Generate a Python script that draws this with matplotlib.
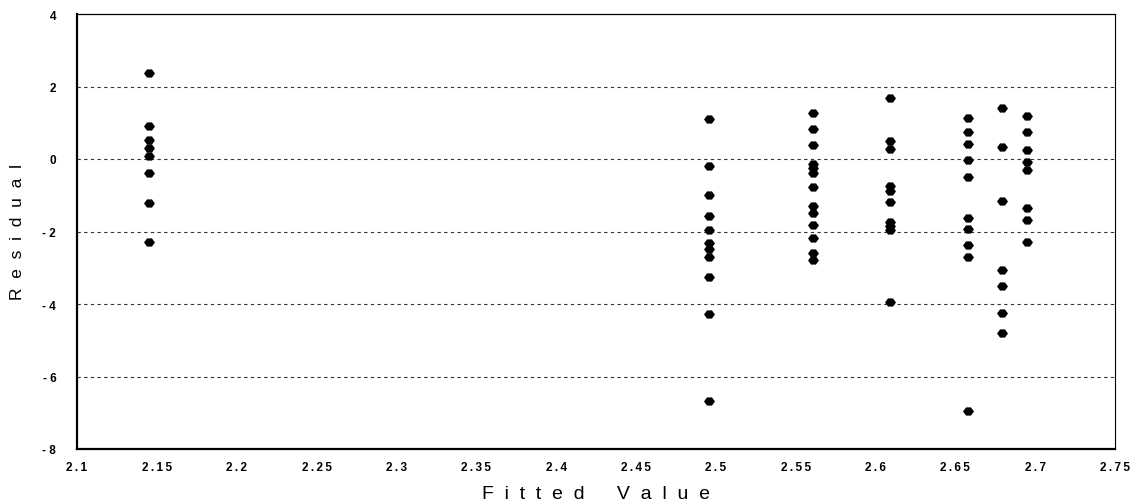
import matplotlib
matplotlib.use("Agg")
import matplotlib.pyplot as plt
from matplotlib.ticker import FuncFormatter

# fitted values (one per column) and the residuals in each column
fitted = [2.145, 2.496, 2.561, 2.609, 2.658, 2.679, 2.695]
residuals = [
    [2.36, 0.90, 0.52, 0.30, 0.08, -0.38, -1.21, -2.30],
    [1.10, -0.19, -0.99, -1.56, -1.97, -2.33, -2.47, -2.71, -3.26, -4.27, -6.68],
    [1.26, 0.82, 0.38, -0.14, -0.25, -0.38, -0.77, -1.29, -1.48, -1.81, -2.19, -2.58, -2.79],
    [1.67, 0.49, 0.27, -0.74, -0.88, -1.18, -1.73, -1.86, -1.97, -3.95],
    [1.12, 0.74, 0.41, -0.03, -0.49, -1.64, -1.92, -2.38, -2.71, -6.96],
    [1.42, 0.33, -1.15, -3.07, -3.51, -4.25, -4.79],
    [1.18, 0.74, 0.25, -0.08, -0.30, -1.34, -1.67, -2.30],
]
x_ticks = [2.1, 2.15, 2.2, 2.25, 2.3, 2.35, 2.4, 2.45, 2.5, 2.55, 2.6, 2.65, 2.7, 2.75]
y_ticks = [-8, -6, -4, -2, 0, 2, 4]

plt.rcParams['font.family'] = ['Liberation Sans', 'DejaVu Sans']


def spaced(s):
    return "\u2009".join(s)


def fmt_x(v, pos):
    return spaced(("%.2f" % v).rstrip("0"))


def fmt_y(v, pos):
    s = "%d" % v
    if s.startswith("-"):
        s = "- " + s[1:]
    return s


fig = plt.figure(figsize=(11.42, 5.02), dpi=100)
ax = fig.add_axes([77 / 1142, 1 - 450 / 502, (1115 - 77) / 1142, (450 - 15) / 502])

# flattened hexagon, like the rounded diamonds in the original
mk = [(-1, 0), (-0.45, 0.75), (0.45, 0.75), (1, 0), (0.45, -0.75), (-0.45, -0.75), (-1, 0)]
for xv, col in zip(fitted, residuals):
    ax.scatter([xv] * len(col), col, marker=mk, s=62, color="black", linewidths=0, zorder=3)

for yv in y_ticks[1:-1]:
    ax.axhline(yv, color="#333333", lw=0.8, linestyle=(0, (3, 3)), zorder=1)

ax.set_xlim(2.1, 2.75)
ax.set_ylim(-8, 4)
ax.set_xticks(x_ticks)
ax.set_yticks(y_ticks)
ax.xaxis.set_major_formatter(FuncFormatter(fmt_x))
ax.yaxis.set_major_formatter(FuncFormatter(fmt_y))
ax.tick_params(axis="x", length=0, pad=9, labelsize=8.5)
ax.tick_params(axis="y", length=0, pad=15, labelsize=8.5)
for lab in ax.get_xticklabels() + ax.get_yticklabels():
    lab.set_fontweight("bold")

ax.spines["left"].set_linewidth(1.6)
ax.spines["bottom"].set_linewidth(1.6)
ax.spines["top"].set_linewidth(0.9)
ax.spines["right"].set_linewidth(0.8)
ax.spines["right"].set_linestyle((0, (6, 1)))

ax.set_xlabel("  ".join("Fitted") + "      " + "  ".join("Value"), fontsize=14)
ax.set_ylabel("  ".join("Residual"), fontsize=12.5)
ax.xaxis.set_label_coords(0.5, -36 / 435)
ax.yaxis.set_label_coords(-52 / 1038, 0.5)

fig.savefig("out.png", dpi=100)
